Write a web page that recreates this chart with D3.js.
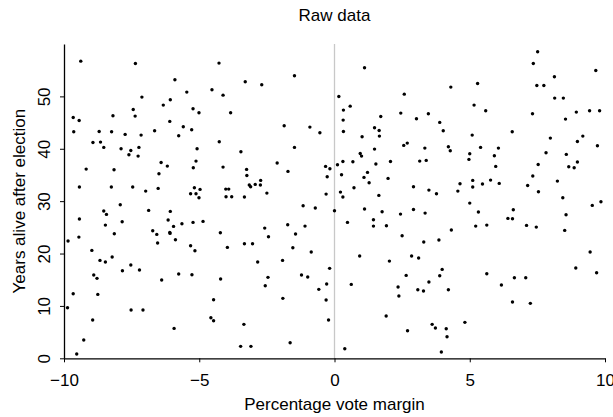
<!DOCTYPE html>
<html lang="en">
<head>
    <meta charset="UTF-8">
    <title>raw-data-scatter</title>
    <script src="https://d3js.org/d3.v7.min.js"></script>
    <style>
        body{
            margin: 0;
            background: #fff;
        }
        text{
            font-family: "Liberation Sans", Arial, Helvetica, sans-serif;
            fill: #000;
        }
    </style>
</head>
<body>
<svg class="graph"></svg>
</body>
<script>
    // percentage vote margin (x) and years alive after election (y)
    var margin = [
        -9.38,-7.36,-5.90,-5.46,-7.12,-6.07,-6.33,-7.44,-5.23,-9.66,-9.44,-8.19,-7.37,-6.09,-5.59,-5.28,
        -9.64,-8.70,-8.24,-7.74,-7.15,-6.65,-5.76,-8.93,-8.65,-8.53,-7.89,-7.53,-7.23,-7.60,-7.26,-5.08,
        -5.12,-6.41,-6.18,-5.22,-9.18,-8.15,-6.49,-9.43,-8.25,-7.46,-6.98,-6.52,-5.18,-5.32,-5.12,
        -4.27,-1.48,-3.30,-2.69,-4.53,-4.12,-5.01,-3.84,-1.86,-0.91,-0.54,-4.26,-1.48,-3.46,-2.12,-4.12,
        -3.25,-1.72,-0.33,-0.17,-0.27,-3.24,-3.15,-3.10,-2.93,-2.74,-2.73,-4.97,-4.02,-3.91,-2.50,-5.01,
        -4.01,-3.80,-3.33,-0.31,
        1.11,4.30,0.16,2.58,0.33,0.58,2.45,3.47,1.71,0.32,3.03,3.89,0.33,1.48,1.65,1.66,4.02,1.02,2.69,
        2.56,4.21,4.28,1.48,3.34,0.95,1.00,0.11,0.31,0.68,1.53,2.07,3.15,3.39,0.26,1.22,1.09,1.28,1.98,
        0.72,2.92,0.22,1.64,3.49,3.77,4.64,4.56,0.31,
        7.51,7.35,9.66,8.13,5.29,7.48,7.74,8.14,8.46,5.16,5.59,7.32,8.94,9.43,9.80,8.54,6.57,5.09,7.98,
        9.18,8.98,9.72,5.40,6.06,5.00,4.97,5.91,7.82,8.57,5.96,7.53,8.66,8.86,8.98,5.11,5.11,5.77,5.47,
        6.09,7.33,7.14,8.24,7.54,8.44,
        -7.92,-6.87,-8.53,-8.43,-6.07,-9.43,-7.85,-6.15,-5.23,-5.64,-5.95,-8.47,-6.72,-6.57,-6.09,-6.08,
        -8.14,-9.45,-9.85,-5.88,-6.54,-5.32,-5.16,-8.97,-8.22,-8.67,-8.47,-7.53,-7.21,-7.84,-8.90,-8.78,
        -5.76,-5.27,-6.39,-9.66,-8.75,-9.87,-7.52,-7.08,-8.94,-5.93,-9.27,-9.53,
        -1.16,-0.71,-4.86,-4.22,-2.58,-1.73,-1.09,-2.44,-1.44,-3.96,-3.33,-3.03,-1.54,-0.86,-2.84,-1.92,
        -0.18,-4.21,-2.46,-2.56,-1.22,-0.99,-0.29,-0.58,-4.47,-1.91,-0.31,-4.57,-4.47,-3.35,-0.22,-1.64,
        -3.47,-3.09,
        0.00,1.11,1.76,2.44,2.92,3.35,0.48,1.44,1.44,1.92,4.32,2.50,3.30,3.86,0.93,2.03,2.85,3.11,3.98,
        3.89,2.65,0.62,3.49,2.35,2.38,3.08,3.29,4.21,1.91,3.61,3.73,4.13,4.82,2.70,4.16,0.38,3.95,
        5.00,9.85,9.53,5.32,6.61,6.41,6.58,8.56,5.22,5.63,7.10,7.46,8.51,9.45,8.92,9.69,5.63,6.65,7.07,
        6.17,6.58,7.24
    ];
    var years = [
        56.73,56.29,53.17,50.82,49.86,49.35,48.34,47.51,47.64,45.98,45.41,46.30,46.24,45.22,44.20,43.63,
        43.25,43.31,43.25,42.74,42.61,43.44,42.48,41.21,41.27,40.26,40.00,39.68,40.26,38.86,38.60,40.00,
        37.65,37.39,36.69,36.38,36.12,36.00,35.23,32.69,32.69,32.69,31.92,32.43,32.56,31.41,31.41,
        56.35,53.93,52.79,52.22,51.26,50.24,46.87,46.87,44.39,44.14,43.06,41.34,40.26,39.43,37.27,36.50,
        36.06,35.68,36.63,36.19,34.66,34.91,33.07,32.75,33.20,33.07,33.96,32.24,32.30,32.30,31.54,30.65,
        30.84,30.84,30.78,31.35,
        55.46,51.77,49.99,50.43,47.38,48.14,46.81,46.68,46.17,45.47,45.73,45.03,43.31,44.01,43.50,42.42,
        43.44,42.29,41.08,40.64,40.38,39.62,39.94,40.13,39.11,38.60,36.95,37.58,37.52,37.08,37.58,37.65,
        37.78,35.04,35.49,34.53,33.51,34.34,32.56,32.75,31.73,31.10,32.11,31.41,33.32,31.92,30.78,
        58.51,56.29,54.95,53.74,52.47,52.09,52.09,49.67,49.67,48.34,47.25,46.68,47.00,47.25,47.25,45.66,
        43.25,42.61,42.04,42.42,41.40,40.57,40.26,40.13,39.05,37.97,38.67,39.24,38.92,36.63,37.01,36.57,
        36.38,37.46,33.96,32.69,34.02,33.26,33.39,34.79,33.00,33.83,31.80,30.65,
        29.32,28.23,28.11,27.47,28.04,26.58,26.07,26.39,25.94,25.69,25.18,25.43,24.35,23.65,24.04,23.84,
        23.78,23.14,22.38,22.64,22.00,21.49,20.54,20.60,19.33,18.69,18.37,17.80,16.85,16.72,15.89,15.26,
        16.08,15.96,14.94,12.33,12.20,9.66,9.21,9.21,7.30,5.71,3.49,0.82,
        29.12,28.68,26.13,23.97,24.86,25.50,25.24,23.21,23.72,21.17,21.87,21.87,21.11,20.28,18.37,18.69,
        17.17,15.13,15.45,13.86,15.89,15.51,14.18,13.16,11.19,11.44,11.12,7.75,7.18,6.48,7.30,2.98,
        2.28,2.28,
        28.17,28.49,27.98,27.53,28.42,27.72,25.94,26.45,25.24,25.31,24.48,23.40,22.19,22.57,19.52,18.56,
        19.52,19.14,16.97,15.77,15.83,14.11,14.56,13.60,11.89,13.09,12.84,13.09,8.07,6.48,5.78,5.65,
        6.86,5.27,4.12,1.83,1.20,
        29.63,29.89,29.19,27.92,28.36,26.71,26.64,27.41,25.24,25.43,25.37,25.05,24.42,20.28,17.23,16.34,
        16.15,15.38,15.38,13.98,10.74,10.49
    ];
    var xTicks = [-10, -5, 0, 5, 10];
    var yTicks = [0, 10, 20, 30, 40, 50];

    var width = 613;
    var height = 417;
    var fontSize = '17px';

    var svg = d3.select('.graph')
        .attr('width', width)
        .attr('height', height)

    var x = d3.scaleLinear().domain([-10, 10]).range([64, 605]);
    var y = d3.scaleLinear().domain([0, 60]).range([358.3, 44]);

    var points = margin.map(function (d, i) {
        return {x: d, y: years[i]};
    });

    // grey line at zero margin
    svg.append('line')
        .attr('x1', x(0)).attr('x2', x(0))
        .attr('y1', y(60)).attr('y2', y(0))
        .attr('stroke', '#c8c8c8')
        .attr('stroke-width', 1.3)

    var xAxis = svg.append('g')
        .attr('transform', 'translate(0,' + y(0) + ')')
        .call(d3.axisBottom(x).tickValues(xTicks).tickSize(4).tickSizeOuter(0)
            .tickFormat(function (d) { return d < 0 ? '\u2212' + Math.abs(d) : d; }))
    xAxis.select('.domain').attr('stroke', '#000').attr('stroke-width', 1.3)
    xAxis.selectAll('.tick line').attr('stroke', '#000')
    xAxis.selectAll('.tick text')
        .attr('y', 27.7)
        .attr('dy', 0)
        .style('font-size', fontSize)

    var yAxis = svg.append('g')
        .attr('transform', 'translate(' + x(-10) + ',0)')
        .call(d3.axisLeft(y).tickValues(yTicks).tickSize(4).tickSizeOuter(0))
    yAxis.select('.domain').attr('stroke', '#000').attr('stroke-width', 1.3)
    yAxis.selectAll('.tick line').attr('stroke', '#000')
    // R style: tick labels turned parallel to the axis
    yAxis.selectAll('.tick text')
        .attr('x', 0).attr('dy', 0)
        .attr('text-anchor', 'middle')
        .attr('transform', 'translate(-14,0) rotate(-90)')
        .style('font-size', fontSize)

    svg.append('g')
        .attr('class', 'dots')
        .selectAll('circle')
        .data(points)
        .enter()
        .append('circle')
        .attr('cx', function (d) { return x(d.x); })
        .attr('cy', function (d) { return y(d.y); })
        .attr('r', 1.7)
        .attr('fill', '#000')

    svg.append('text')
        .attr('x', (x(-10) + x(10)) / 2)
        .attr('y', 21)
        .attr('text-anchor', 'middle')
        .style('font-size', fontSize)
        .text('Raw data')

    svg.append('text')
        .attr('x', (x(-10) + x(10)) / 2)
        .attr('y', 410)
        .attr('text-anchor', 'middle')
        .style('font-size', fontSize)
        .text('Percentage vote margin')

    svg.append('text')
        .attr('transform', 'translate(25,' + y(30) + ') rotate(-90)')
        .attr('text-anchor', 'middle')
        .style('font-size', fontSize)
        .text('Years alive after election')
</script>
</html>
